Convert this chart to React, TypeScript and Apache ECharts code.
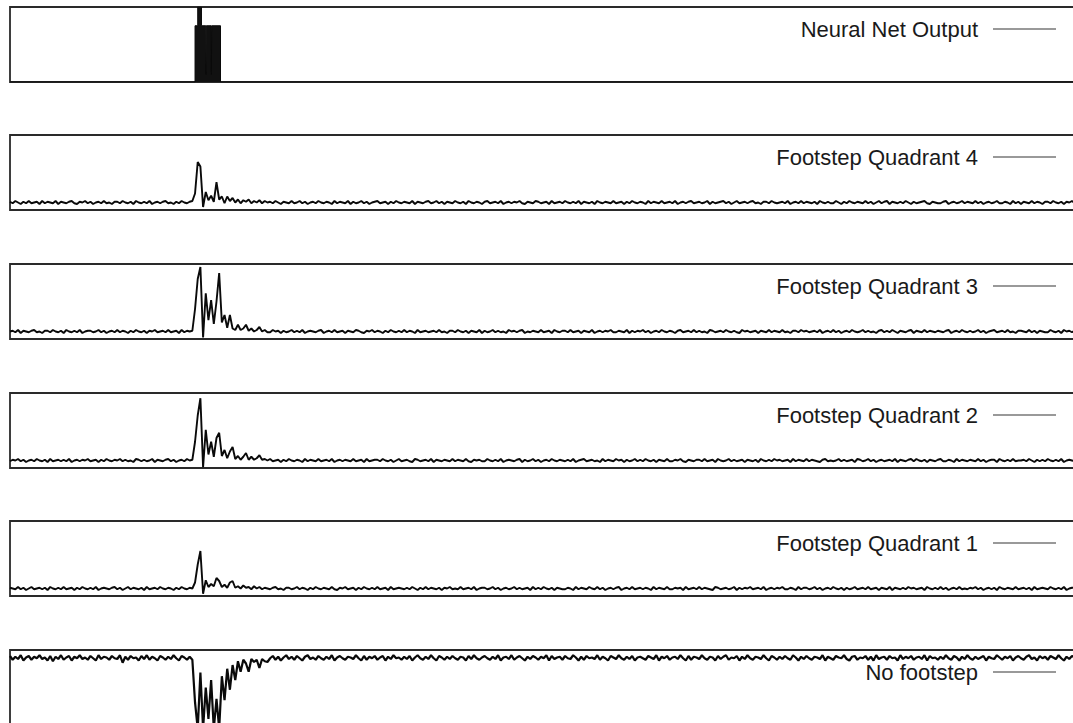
import React, { useEffect, useRef } from "react";
import * as echarts from "echarts";

// ---- panel names (top to bottom) ----
const panelNames = [
  "Neural Net Output",
  "Footstep Quadrant 4",
  "Footstep Quadrant 3",
  "Footstep Quadrant 2",
  "Footstep Quadrant 1",
  "No footstep",
];

// ---- Neural net output: [sample, value] ----
const nnOutput: [number, number][] = [
  [0, 0], [69, 0], [69, 0.75], [70, 0.75], [70, 1], [71.4, 1], [71.4, 0.75],
  [73, 0.75], [73.1, 0.1], [73.2, 0.75], [75, 0.75], [75.1, 0.1], [75.2, 0.75],
  [78.5, 0.75], [78.5, 0], [399, 0],
];

// ---- Footstep Quadrant 4 ----
const q4Pre = [
  1,-1,2,0,-2,1,-1,2,-1,0, 1,-2,2,-1,1,0,-1,2,-2,1, 0,-1,1,2,-1,-2,1,0,2,-1,
  1,-2,0,1,-1,2,-1,0,-2,1, 1,-1,2,0,-1,1,-2,2,0,-1, 1,-1,2,-2,0,1,-1,1,2,-1,
  0,-2,1,-1,2,0,-1,1,
];
const q4Burst = [2,12,54,48,-6,14,3,9,1,27,4,8,-1,8,2,6,0,4,-1,3,1,4,-1,2,0,3,-1,2,0];
const q4Post = [
  1,-1,2,0,-2,1,0,-1,2,-1, 0,2,-1,1,-2,0,1,-1,2,0, -1,1,0,-2,2,-1,1,0,-1,2,
  -2,1,-1,0,2,-1,1,-2,0,1, 2,-1,0,1,-2,1,-1,2,0,-1, 1,0,-1,2,-2,1,0,-1,1,2,
  -1,0,2,-1,1,-2,1,0,-1,2, 0,-1,1,-2,2,0,-1,1,0,-2, 1,2,-1,0,1,-1,2,-2,0,1,
  -1,1,0,2,-1,-2,1,0,-1,2, 1,-1,0,1,-2,2,-1,0,1,-1, 2,0,-1,1,-1,2,-2,1,0,-1,
  1,-2,2,0,-1,1,0,-1,2,-1, 0,1,-2,1,-1,2,0,-1,1,0, -2,2,-1,1,0,-1,2,-1,0,1,
  -1,2,-2,0,1,-1,1,2,-1,0, 1,-1,0,2,-2,1,-1,0,1,2, -1,1,-2,0,2,-1,0,1,-1,1,
  2,-1,0,-2,1,1,-1,2,0,-1, 0,1,-1,2,-2,0,1,-1,2,-1, 1,0,-1,1,-2,2,0,-1,1,-1,
  -1,2,0,-2,1,-1,2,0,-1,1, 0,-1,2,-1,1,-2,0,2,-1,1, 2,-2,1,0,-1,1,-1,2,0,-2,
  1,-1,0,1,2,-1,-2,1,0,-1, -1,1,2,-2,0,1,-1,0,2,-1, 1,0,-1,2,-1,1,-2,0,1,-1,
  0,2,-1,-1,1,0,-2,2,-1,1, -2,1,0,-1,2,-1,1,0,-2,1, 1,-1,2,0,-1,1,-2,1,0,2,
  -1,0,1,-2,2,-1,1,-1,0,1, 1,-1,0,
];

// ---- Footstep Quadrant 3 ----
const q3Pre = [
  0,1,-1,2,-2,1,0,-1,1,2, -1,0,-2,1,1,-1,2,0,-1,1, -2,2,0,-1,1,-1,2,-2,0,1,
  1,-1,0,2,-1,1,-2,0,1,-1, 2,-1,1,0,-2,1,-1,2,0,-1, 1,-2,1,0,2,-1,0,1,-1,2,
  -1,0,1,-2,2,-1,1,0,
];
const q3Burst = [1,30,70,86,-8,51,15,42,10,40,78,12,22,5,22,4,2,9,2,4,9,1,4,0,2,6,0,2,-1];
const q3Post = [
  -1,2,0,1,-2,1,-1,0,2,-1, 1,-1,2,-2,0,1,0,-1,1,2, -2,0,1,-1,2,-1,0,1,-2,1,
  0,-1,2,1,-1,-2,1,0,2,-1, 1,0,-2,1,-1,2,0,-1,1,-1, 2,-1,1,0,-2,2,-1,0,1,-1,
  0,1,-1,2,-1,0,-2,1,1,-1, 2,0,-1,1,-2,1,0,-1,2,-2, 1,-1,0,2,-1,1,-1,0,-2,2,
  0,1,-1,1,2,-2,0,-1,1,0, -1,2,-1,0,1,-2,2,0,-1,1, 1,-1,2,-1,0,1,-2,1,0,-1,
  2,-2,0,1,-1,1,0,2,-1,-1, 1,0,-1,2,-2,1,-1,1,0,2, -1,1,-2,0,1,-1,2,0,-1,1,
  0,-2,1,2,-1,0,1,-1,2,-1, 1,-1,0,-2,2,1,-1,0,1,-1, 2,0,-1,1,-1,-2,2,0,1,-1,
  0,1,-2,1,0,-1,2,-1,1,0, -1,2,-1,0,-2,1,1,-1,2,0, 1,-1,0,1,-1,2,-2,0,1,-1,
  2,-1,1,-2,0,1,-1,2,0,-1, 0,2,-1,1,-1,0,-2,1,2,-1, 1,-1,2,0,-2,1,0,-1,1,2,
  -2,1,0,-1,2,-1,1,0,-1,1, 0,-1,1,2,-2,0,1,-1,2,0, -1,1,-1,0,2,-1,1,-2,0,1,
  2,-1,0,1,-1,2,-1,0,-2,1, 1,0,-1,2,-1,1,-2,1,0,-1, -1,2,0,-1,1,-2,2,0,1,-1,
  1,-1,2,0,-1,1,0,-2,1,2, 0,-1,1,
];

// ---- Footstep Quadrant 2 ----
const q2Pre = [
  -1,1,0,2,-1,1,-2,0,1,-1, 2,0,-1,1,-2,2,-1,0,1,-1, 1,-1,2,-2,0,1,-1,1,0,2,
  -1,0,1,-2,1,-1,2,0,-1,1, 0,2,-1,1,-1,0,-2,2,1,-1, 1,-1,0,2,-2,1,0,-1,1,2,
  -1,1,-2,0,1,-1,2,0,
];
const q2Burst = [1,25,60,83,-9,41,8,25,5,30,37,6,14,3,12,18,2,6,1,5,10,1,5,1,3,7,1,2,0];
const q2Post = [
  2,-1,0,1,-2,1,-1,2,0,-1, 1,0,-2,2,-1,1,0,-1,2,-1, 0,1,-1,2,-2,0,1,-1,1,0,
  -1,2,-1,0,1,-2,2,-1,0,1, 1,-1,2,0,-1,1,-2,0,2,-1, 0,1,-1,-2,2,1,-1,0,1,-1,
  2,-2,1,0,-1,1,0,-1,2,-1, 1,0,-1,2,-1,-2,1,0,1,-1, -1,2,0,-1,1,-1,2,-2,0,1,
  0,-1,1,2,-2,1,-1,0,2,-1, 1,-2,0,1,-1,2,0,-1,1,0, -1,1,-1,2,-2,0,1,2,-1,0,
  1,-1,0,-2,2,-1,1,0,-1,2, 0,1,-2,1,-1,0,2,-1,1,-1, 2,0,-1,1,-2,1,0,-1,2,-1,
  -1,1,0,2,-1,-2,1,0,-1,1, 1,-1,2,-1,0,1,-2,2,0,-1, 0,2,-1,1,-1,0,1,-2,1,0,
  -1,1,-2,2,0,-1,1,-1,2,0, 1,-1,0,1,-2,2,-1,1,0,-1, 2,-1,1,0,-1,-2,1,2,-1,0,
  -1,0,2,-1,1,-1,0,1,-2,2, 1,-1,0,2,-1,1,-2,0,1,-1, 0,1,-1,2,-2,1,0,-1,1,2,
  -1,2,0,-1,1,-2,1,0,-1,1, 2,-1,-1,1,0,-2,2,-1,1,0, -1,1,0,-1,2,-1,1,-2,0,1,
  1,-2,2,0,-1,1,-1,2,-1,0, 0,1,-1,2,0,-2,1,-1,1,-1, 2,0,-1,1,-1,2,-2,0,1,0,
  -1,1,2,-1,0,-2,1,1,-1,2, 0,-1,1,
];

// ---- Footstep Quadrant 1 ----
const q1Pre = [
  1,0,-1,2,-1,1,-2,0,2,-1, 0,1,-1,1,-2,2,0,-1,1,-1, 2,-1,0,1,-2,1,-1,2,0,-1,
  1,-1,2,-2,0,1,0,-1,1,2, -1,1,-2,0,2,-1,1,0,-1,1, -2,2,-1,0,1,-1,2,0,-1,1,
  0,-2,1,-1,2,0,-1,1,
];
const q1Burst = [0,8,32,50,-7,11,2,6,3,14,10,2,5,1,8,10,1,3,0,4,1,2,-1,3,0,2,-1,1,0];
const q1Post = [
  -1,1,2,-1,0,-2,1,1,-1,0, 2,-1,1,0,-2,1,-1,2,0,-1, 1,0,-1,2,-1,-2,1,0,2,-1,
  0,1,-2,1,-1,2,0,-1,1,-1, 2,-1,0,1,-2,2,-1,0,1,0, -1,1,-1,2,0,-2,1,-1,2,-1,
  1,0,-1,1,-2,1,0,2,-1,0, -1,2,-1,0,1,-1,2,-2,0,1, 1,-1,0,2,-1,1,-2,0,1,-1,
  0,2,-1,1,-1,0,1,-2,2,-1, 1,-1,2,0,-1,1,-2,1,0,-1, -1,1,0,-2,2,-1,1,0,-1,2,
  0,-1,2,-1,1,-2,0,1,-1,1, 2,-2,0,1,-1,2,-1,0,1,-1, 1,0,-2,2,-1,1,0,-1,2,-1,
  -1,1,0,1,-2,2,-1,0,1,-1, 2,-1,1,0,-1,-2,2,1,-1,0, 1,-1,0,2,-2,1,-1,1,0,2,
  -1,0,1,-1,2,-2,0,1,-1,1, 0,2,-1,-1,1,0,-2,2,-1,1, 1,-1,0,2,-1,1,-2,0,1,-1,
  2,0,-1,1,-2,1,-1,0,2,-1, 0,1,-1,2,-1,0,1,-2,1,0, -1,2,-2,1,0,-1,1,-1,2,0,
  1,-1,0,1,-2,2,0,-1,1,-1, 2,-1,1,-2,0,1,-1,2,-1,0, -1,1,0,2,-1,1,-2,0,1,-1,
  1,-2,2,0,-1,1,0,-1,2,-1, 0,1,-1,1,-2,2,-1,0,1,0, -1,2,0,-1,1,-1,2,-2,0,1,
  1,-1,0,2,-1,1,-2,1,0,-1, 0,1,-1,
];

// ---- No footstep (inverted, hangs from the top) ----
const nfPre = [
  2,-3,1,-2,3,-4,0,2,-3,1, -1,3,-2,0,-4,2,-5,1,-2,3, -3,0,2,-4,1,-1,3,-2,0,-3,
  2,-1,-4,3,-2,1,0,-3,2,-1, -2,3,-7,1,-3,2,-1,0,-4,2, -2,3,-3,1,-1,-4,2,0,-3,1,
  -2,3,-1,-4,2,0,-3,1,
];
const nfBurst = [-3,-60,-95,-20,-95,-40,-82,-30,-95,-55,-95,-25,-57,-15,-43,-10,-30,-5,-19,-3,-8,-19,-2,-6,-3,-14,-2,-5,-6];
const nfPost = [
  -1,2,-3,1,-4,0,3,-2,1,-3, 2,-1,-4,1,3,-2,0,-3,2,-1, -3,1,-2,3,-4,0,2,-1,-3,1,
  0,-2,3,-1,-4,2,-3,1,-1,2, -3,0,2,-4,1,-2,3,-1,0,-3, 1,-2,2,-4,0,3,-1,-3,1,-2,
  3,-1,-4,2,0,-3,1,-2,2,-1, -3,1,0,-4,2,-2,3,-1,-3,0, 2,-1,-3,1,-2,3,-4,0,1,-2,
  3,-3,0,2,-1,-4,1,-2,2,0, -3,1,-1,3,-4,2,-2,0,1,-3, 2,-1,-2,3,0,-4,1,-3,2,-1,
  0,-2,3,-3,1,-1,-4,2,0,-2, 3,-1,-3,1,-2,2,-4,0,1,-1, -3,2,0,-2,3,-4,1,-1,2,-3,
  0,1,-2,3,-1,-4,2,-3,1,0, -2,3,-1,-3,1,0,-4,2,-2,1, 3,-3,0,-1,2,-4,1,-2,3,-1,
  -3,1,0,-2,3,-1,-4,2,0,-3, 1,-2,2,-1,-3,3,0,-4,1,-2, 2,-1,-3,1,0,-2,3,-4,1,-1,
  -3,2,0,-1,3,-2,-4,1,2,-3, 0,-1,2,-3,1,-4,3,-2,0,1, -3,2,-1,0,-4,3,-2,1,-1,2,
  -3,0,1,-2,3,-4,2,-1,0,-3, 1,-2,3,-1,-3,2,0,-4,1,-2, 3,-1,-3,1,-2,0,2,-4,1,-1,
  -2,3,0,-3,1,-1,2,-4,0,2, -1,-3,1,3,-2,0,-4,2,-1,1, -3,2,0,-2,3,-1,-4,1,-2,2,
  0,-3,1,-1,3,-4,2,-2,0,1, -3,2,-1,
];

const q4 = [...q4Pre, ...q4Burst, ...q4Post];
const q3 = [...q3Pre, ...q3Burst, ...q3Post];
const q2 = [...q2Pre, ...q2Burst, ...q2Post];
const q1 = [...q1Pre, ...q1Burst, ...q1Post];
const nf = [...nfPre, ...nfBurst, ...nfPost];

// the last panel is cut by the page edge, so it is drawn taller (same scale)
const yRanges: [number, number][] = [
  [0, 1], [-10, 90], [-10, 90], [-10, 90], [-10, 90], [-96.7, 10],
];

const panelTops = [7, 135, 264, 393, 521, 650];
const panelHeights = [75, 75, 75, 75, 75, 80];
const SAMPLE_MAX = 399;

function toPairs(arr: number[]): [number, number][] {
  return arr.map((v, i) => [i, v]);
}

export default function App() {
  const ref = useRef<HTMLDivElement>(null);
  useEffect(() => {
    if (!ref.current) return;
    const chart = echarts.init(ref.current, undefined, { renderer: "svg" });
    const seriesData: [number, number][][] = [
      nnOutput, toPairs(q4), toPairs(q3), toPairs(q2), toPairs(q1), toPairs(nf),
    ];
    const font = "'Liberation Sans', Arial, Helvetica, sans-serif";
    chart.setOption({
      animation: false,
      backgroundColor: "#ffffff",
      grid: panelTops.map((t, i) => ({
        left: 10,
        top: t,
        width: 1070,
        height: panelHeights[i],
        show: true,
        borderColor: "#2a2a2a",
        borderWidth: 1.8,
        backgroundColor: "transparent",
        containLabel: false,
        outerBoundsMode: "none",
      })),
      xAxis: panelTops.map((_, i) => ({
        type: "value",
        gridIndex: i,
        min: 0,
        max: SAMPLE_MAX,
        show: false,
      })),
      yAxis: yRanges.map((r, i) => ({
        type: "value",
        gridIndex: i,
        min: r[0],
        max: r[1],
        show: false,
      })),
      legend: panelNames.map((name, i) => ({
        data: [{ name, icon: "rect" }],
        right: 17,
        top: panelTops[i] + 11,
        padding: 0,
        align: "right",
        itemWidth: 63,
        itemHeight: 1.5,
        itemStyle: { color: "#777", borderWidth: 0 },
        selectedMode: false,
        textStyle: {
          fontSize: 22,
          lineHeight: 22,
          color: "#1a1a1a",
          fontFamily: font,
          padding: [0, 10, 0, 0],
        },
      })),
      series: panelNames.map((name, i) => ({
        name,
        type: "line",
        xAxisIndex: i,
        yAxisIndex: i,
        data: seriesData[i],
        showSymbol: false,
        symbol: "none",
        silent: true,
        clip: true,
        color: "#111",
        lineStyle: { color: "#0a0a0a", width: i === 0 ? 1 : i === 5 ? 2.2 : 1.9 },
        areaStyle: i === 0 ? { color: "#111", opacity: 1, origin: "start" } : undefined,
      })),
    });
    return () => chart.dispose();
  }, []);
  return (
    <div
      ref={ref}
      style={{ position: "fixed", left: 0, top: 0, width: 1073, height: 723, background: "#fff" }}
    />
  );
}
